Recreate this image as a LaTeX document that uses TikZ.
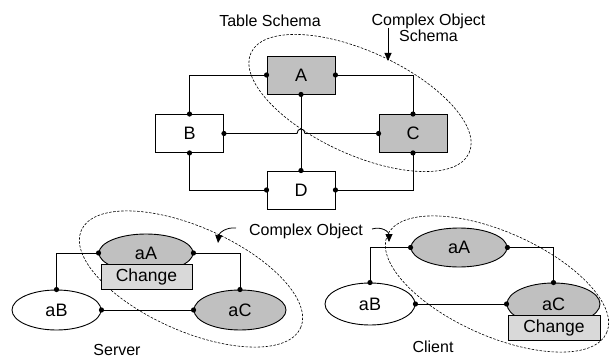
\documentclass[tikz,border=0pt]{standalone}
\usepackage{fontspec}
\setmainfont{Liberation Sans}
\usetikzlibrary{shapes.geometric,arrows.meta}
\definecolor{nodegray}{RGB}{192,192,192}
\definecolor{chggray}{RGB}{217,217,217}
\begin{document}
\begin{tikzpicture}[x=1pt,y=-1pt,
  font=\fontsize{16}{16}\selectfont,
  line width=0.9pt,
  wbox/.style={draw, rectangle, fill=white, minimum width=68pt, minimum height=38pt, inner sep=0pt, font=\fontsize{18}{18}\selectfont},
  gbox/.style={wbox, fill=nodegray},
  well/.style={draw, ellipse, fill=white, inner sep=0pt, font=\fontsize{18}{18}\selectfont},
  gell/.style={well, fill=nodegray},
  chg/.style={draw, rectangle, fill=chggray, minimum width=91pt, minimum height=25pt, inner sep=0pt, font=\fontsize{17.5}{17.5}\selectfont},
  grp/.style={draw, line width=0.6pt, dash pattern=on 2.5pt off 1.5pt},
  dot/.style={fill=black},
  lbl/.style={inner sep=0pt},
  pointer/.style={line width=0.8pt, -{Triangle[length=8pt,width=7pt]}}]
\useasboundingbox (0,0) rectangle (612,358);

% group ellipses
\draw[grp, rotate around={-24.7:(360,103)}] (360,103) ellipse [x radius=120pt, y radius=51.5pt];
\draw[grp, rotate around={-24:(191,279)}] (191,279) ellipse [x radius=120pt, y radius=52pt];
\draw[grp, rotate around={-24:(497,284)}] (497,284) ellipse [x radius=120pt, y radius=52pt];

% top schema
\node[gbox] (A) at (301,75) {A};
\node[wbox] (B) at (189.5,133.5) {B};
\node[gbox] (C) at (413,133.5) {C};
\node[wbox] (D) at (301,190) {D};
\coordinate (j1) at (297,133.5);
\coordinate (j2) at (305,133.5);
\draw (B.north) |- (A.west);
\draw (A.east) -| (C.north);
\draw (A.south) -- (D.north);
\draw (B.east) -- (j1) .. controls (297,127.5) and (305,127.5) .. (j2) -- (C.west);
\draw (B.south) |- (D.west);
\draw (C.south) |- (D.east);
\foreach \p in {A.west,A.east,A.south,B.north,B.east,B.south,C.north,C.west,C.south,D.north,D.west,D.east}
  \fill[dot] (\p) circle (2.6pt);

\node[lbl] (ts) at (270,21) {Table Schema};
\node[lbl, align=center] (cos) at (428.5,28) {Complex Object\\Schema};
\coordinate (cosA) at (388,28);
\coordinate (cosB) at (388,61);
\draw[pointer] (cosA) -- (cosB);

% server
\node[gell, minimum width=94pt, minimum height=38pt] (lA) at (146,253) {aA};
\node[chg] (lChg) at (146.5,276.5) {Change};
\node[well, minimum width=89pt, minimum height=40pt] (lB) at (56.5,310) {aB};
\node[gell, minimum width=92pt, minimum height=40pt] (lC) at (240,310) {aC};
\draw (lA.west) -| (lB.north);
\draw (lA.east) -| (lC.north);
\draw (lB.east) -- (lC.west);
\foreach \p in {lA.west,lA.east,lB.north,lB.east,lC.north,lC.west}
  \fill[dot] (\p) circle (2.6pt);

% client
\node[gell, minimum width=96pt, minimum height=39pt] (rA) at (459,247.5) {aA};
\node[well, minimum width=90pt, minimum height=42pt] (rB) at (370,304) {aB};
\node[gell, minimum width=93pt, minimum height=42pt] (rC) at (553.5,304) {aC};
\node[chg, minimum width=92pt] (rChg) at (554,327.5) {Change};
\draw (rA.west) -| (rB.north);
\draw (rA.east) -| (rC.north);
\draw (rB.east) -- (rC.west);
\foreach \p in {rA.west,rA.east,rB.north,rB.east,rC.north,rC.west}
  \fill[dot] (\p) circle (2.6pt);

% labels
\node[lbl] (co) at (306,231) {Complex Object};
\coordinate (l1) at (236,228);
\coordinate (l2) at (218,243);
\coordinate (r1) at (372,229);
\coordinate (r2) at (389,242);
\draw[pointer] (l1) .. controls (226,227) and (219,233) .. (l2);
\draw[pointer] (r1) .. controls (382,226) and (389,232) .. (r2);
\node[lbl] (srv) at (117,350) {Server};
\node[lbl] (cli) at (433,347) {Client};
\end{tikzpicture}
\end{document}
